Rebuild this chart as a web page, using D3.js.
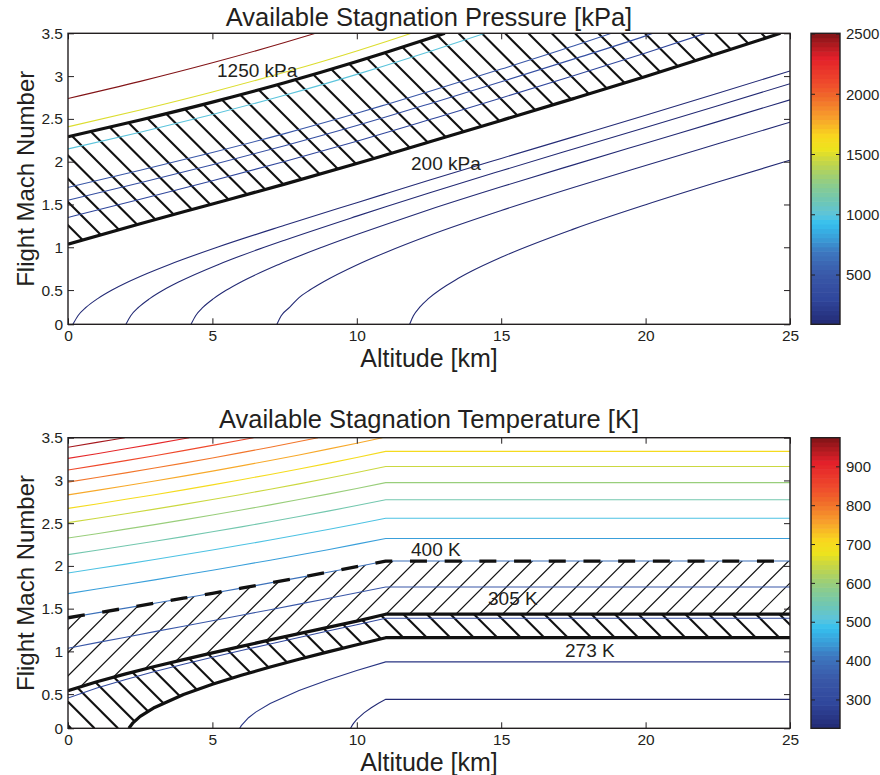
<!DOCTYPE html>
<html><head><meta charset="utf-8">
<script src="https://cdn.jsdelivr.net/npm/d3@7"></script>
<style>
body{margin:0;background:#fff}
svg{display:block}
text{font-family:"Liberation Sans",Arial,Helvetica,sans-serif;fill:#231f20}
</style>
</head><body>
<svg id="c" width="880" height="775"></svg>
<script>
// ================= DATA =================
const altTicks = [0, 5, 10, 15, 20, 25];
const machTicks = [0.1, 0.5, 1, 1.5, 2, 2.5, 3, 3.5];
const machTickLabels = ["0", "0.5", "1", "1.5", "2", "2.5", "3", "3.5"];
const pBarTicks = [500, 1000, 1500, 2000, 2500];
const tBarTicks = [300, 400, 500, 600, 700, 800, 900];
const pBarRange = [91, 2506];
const tBarRange = [227, 975];

// Stagnation pressure contours: [altitude km, Mach]
const pLevels = [20, 40, 60, 80, 100, 300, 400, 500, 1000, 1500, 2500];
const p20 = [[11.83,0.1],[11.96,0.2],[12.18,0.3],[12.5,0.405],[13.5,0.634],[14,0.725],[15,0.883],[17.5,1.212],[20,1.497],[22.5,1.762],[25,2.017]];
const p40 = [[7.234,0.1],[7.382,0.2],[7.68,0.3],[8,0.412],[8.372,0.5],[8.866,0.6],[10,0.793],[11,0.94],[12.5,1.138],[15,1.43],[17.5,1.699],[20,1.956],[22.5,2.209],[25,2.461]];
const p60 = [[4.26,0.1],[4.419,0.2],[4.68,0.3],[5.04,0.4],[5.489,0.5],[6.022,0.6],[7.299,0.8],[8.794,1.0],[10,1.149],[11,1.267],[12.5,1.438],[15,1.706],[17.5,1.963],[20,2.216],[22.5,2.468],[25,2.723]];
const p80 = [[2.006,0.1],[2.173,0.2],[2.449,0.3],[2.829,0.4],[3.304,0.5],[3.866,0.6],[5.215,0.8],[6.794,1.0],[7.5,1.083],[10,1.364],[11,1.474],[12.5,1.635],[15,1.894],[17.5,2.148],[20,2.4],[22.5,2.654],[25,2.911]];
const p100 = [[0.17,0.1],[0.345,0.2],[0.633,0.3],[1.029,0.4],[1.525,0.5],[2.111,0.6],[2.78,0.7],[3.518,0.8],[5.166,1.0],[7.5,1.257],[10,1.521],[11,1.626],[12.5,1.783],[15,2.038],[17.5,2.29],[20,2.543],[22.5,2.799],[25,3.06]];
const p300 = [[0,1.348],[2.5,1.562],[5,1.778],[7.5,2.002],[10,2.238],[11,2.337],[12.5,2.489],[15,2.744],[17.5,3.004],[20,3.27],[22.08,3.5]];
const p400 = [[0,1.55],[2.5,1.754],[5,1.965],[7.5,2.186],[10,2.422],[11,2.522],[12.5,2.675],[15,2.933],[17.5,3.198],[20,3.47],[20.26,3.5]];
const p500 = [[0,1.7],[2.5,1.9],[5,2.108],[7.5,2.328],[10,2.565],[11,2.666],[12.5,2.82],[15,3.082],[17.5,3.351],[18.82,3.5]];
const p1000 = [[0,2.149],[2.5,2.344],[5,2.552],[7.5,2.776],[10,3.02],[11,3.124],[12.5,3.285],[14.44,3.5]];
const p1500 = [[0,2.408],[2.5,2.604],[5,2.815],[7.5,3.044],[10,3.294],[11,3.402],[11.89,3.5]];
const p2500 = [[0,2.738],[2.5,2.938],[5,3.155],[7.5,3.392],[8.57,3.5]];
// bold boundaries (200 kPa and 1250 kPa)
const p200 = [[0,1.036],[2.5,1.275],[5,1.506],[7.5,1.738],[10,1.978],[11,2.078],[12.5,2.229],[15,2.482],[17.5,2.737],[20,2.996],[22.5,3.263],[24.67,3.5]];
const p1250 = [[0,2.291],[2.5,2.487],[5,2.696],[7.5,2.922],[10,3.17],[11,3.276],[12.5,3.44],[13.05,3.5]];

// Stagnation temperature contours: [altitude km, Mach]
const tLevels = [225, 250, 300, 350, 400, 450, 500, 550, 600, 650, 700, 750, 800, 850, 900, 950];
const t225 = [[9.785,0.1],[9.85,0.14],[9.9,0.164],[10,0.204],[10.25,0.28],[10.5,0.341],[10.75,0.393],[11,0.439],[25,0.439]];
const t250 = [[5.946,0.1],[6,0.131],[6.25,0.224],[6.5,0.289],[7,0.389],[8,0.542],[9,0.666],[10,0.776],[11,0.877],[25,0.877]];
const t300 = [[0,0.454],[1,0.571],[2,0.672],[3,0.764],[4,0.85],[5,0.931],[6,1.01],[7,1.087],[8,1.163],[9,1.238],[10,1.312],[11,1.387],[25,1.387]];
const t350 = [[0,1.036],[1,1.102],[2,1.166],[3,1.231],[4,1.294],[5,1.358],[6,1.423],[7,1.487],[8,1.553],[9,1.619],[10,1.686],[11,1.754],[25,1.754]];
const t400 = [[0,1.393],[1,1.45],[2,1.506],[3,1.564],[4,1.622],[5,1.68],[6,1.74],[7,1.801],[8,1.863],[9,1.926],[10,1.991],[11,2.057],[25,2.057]];
const t450 = [[0,1.676],[1,1.729],[2,1.783],[3,1.837],[4,1.893],[5,1.95],[6,2.008],[7,2.067],[8,2.128],[9,2.19],[10,2.255],[11,2.321],[25,2.321]];
const t500 = [[0,1.917],[1,1.969],[2,2.021],[3,2.075],[4,2.13],[5,2.186],[6,2.244],[7,2.303],[8,2.364],[9,2.426],[10,2.491],[11,2.557],[25,2.557]];
const t550 = [[0,2.132],[1,2.183],[2,2.235],[3,2.288],[4,2.343],[5,2.399],[6,2.457],[7,2.517],[8,2.578],[9,2.641],[10,2.706],[11,2.774],[25,2.774]];
const t600 = [[0,2.326],[1,2.377],[2,2.43],[3,2.483],[4,2.539],[5,2.595],[6,2.654],[7,2.714],[8,2.776],[9,2.84],[10,2.906],[11,2.974],[25,2.974]];
const t650 = [[0,2.506],[1,2.557],[2,2.61],[3,2.664],[4,2.72],[5,2.777],[6,2.836],[7,2.897],[8,2.96],[9,3.025],[10,3.093],[11,3.163],[25,3.163]];
const t700 = [[0,2.673],[1,2.725],[2,2.779],[3,2.833],[4,2.89],[5,2.948],[6,3.008],[7,3.07],[8,3.134],[9,3.2],[10,3.269],[11,3.34],[25,3.34]];
const t750 = [[0,2.831],[1,2.884],[2,2.938],[3,2.993],[4,3.05],[5,3.109],[6,3.17],[7,3.233],[8,3.298],[9,3.366],[10,3.436],[10.886,3.5]];
const t800 = [[0,2.98],[1,3.034],[2,3.088],[3,3.145],[4,3.203],[5,3.263],[6,3.325],[7,3.389],[8,3.455],[8.657,3.5]];
const t850 = [[0,3.122],[1,3.176],[2,3.232],[3,3.289],[4,3.349],[5,3.41],[6,3.473],[6.426,3.5]];
const t900 = [[0,3.258],[1,3.313],[2,3.37],[3,3.428],[4,3.488],[4.197,3.5]];
const t950 = [[0,3.389],[1,3.445],[1.5,3.473],[1.968,3.5]];
// bold boundaries (273 K, 305 K) ; 400 K dashed uses t400
const t273 = [[2.108,0.1],[2.25,0.164],[2.5,0.239],[3,0.344],[4,0.495],[5,0.615],[6,0.72],[7,0.817],[8,0.907],[9,0.994],[10,1.078],[11,1.16],[25,1.16]];
const t305 = [[0,0.541],[1,0.644],[2,0.737],[3,0.823],[4,0.904],[5,0.982],[6,1.059],[7,1.134],[8,1.207],[9,1.281],[10,1.354],[11,1.435],[25,1.435]];

// ================= DRAWING =================
const svg = d3.select("#c");
const defs = svg.append("defs");
const XR = [68, 790];
const CBX = [811, 840];

const cmapStops = [[0,"#232a74"],[0.087,"#30479c"],[0.17,"#3a58a8"],[0.25,"#3d78c0"],[0.29,"#3a9ad6"],[0.347,"#35c0ef"],[0.376,"#5cc4dc"],[0.418,"#6cc6b8"],[0.48,"#8ccc8c"],[0.52,"#a8d068"],[0.57,"#cfd93c"],[0.6,"#ece31e"],[0.645,"#f9d81e"],[0.71,"#f7a02c"],[0.79,"#f0642a"],[0.83,"#ef4a2c"],[0.915,"#e3202a"],[1,"#7f1416"]];
const cmap = d3.scaleLinear().domain(cmapStops.map(s => s[0])).range(cmapStops.map(s => s[1])).interpolate(d3.interpolateRgb).clamp(true);

function panel(o) {
  const x = d3.scaleLinear().domain([0, 25]).range(XR);
  const y = d3.scaleLinear().domain([0.1, 3.5]).range([o.bottom, o.top]);
  const g = svg.append("g");
  defs.append("clipPath").attr("id", o.id + "rect").append("rect")
    .attr("x", XR[0]).attr("y", o.top).attr("width", XR[1] - XR[0]).attr("height", o.bottom - o.top);
  const plot = g.append("g").attr("clip-path", `url(#${o.id}rect)`);
  const lineC = d3.line().x(d => x(d[0])).y(d => y(d[1])).curve(o.curve);
  const color = v => cmap((v - o.cRange[0]) / (o.cRange[1] - o.cRange[0]));

  // hatched regions
  o.hatches.forEach((h, i) => {
    const poly = h.poly.map(d => [x(d[0]), y(d[1])]);
    defs.append("clipPath").attr("id", o.id + "h" + i).append("path").attr("d", "M" + poly.join("L") + "Z");
    const hg = plot.append("g").attr("clip-path", `url(#${o.id}h${i})`);
    const segs = [];
    if (h.dir === "back") { // x - y = c
      const lo = XR[0] - o.bottom - h.step, hi = XR[1] - o.top + h.step;
      let c = h.phase - Math.ceil((h.phase - lo) / h.step) * h.step;
      for (; c <= hi; c += h.step) segs.push([[c + o.top, o.top], [c + o.bottom, o.bottom]]);
    } else { // x + y = c
      const lo = XR[0] + o.top - h.step, hi = XR[1] + o.bottom + h.step;
      let c = h.phase - Math.ceil((h.phase - lo) / h.step) * h.step;
      for (; c <= hi; c += h.step) segs.push([[c - o.top, o.top], [c - o.bottom, o.bottom]]);
    }
    hg.selectAll("line").data(segs).join("line")
      .attr("x1", d => d[0][0]).attr("y1", d => d[0][1])
      .attr("x2", d => d[1][0]).attr("y2", d => d[1][1])
      .attr("stroke", "#111").attr("stroke-width", h.width).attr("stroke-linecap", "butt");
  });

  // colored contours
  plot.selectAll("path.ct").data(o.contours).join("path").attr("class", "ct")
    .attr("d", d => lineC(d.pts)).attr("fill", "none")
    .attr("stroke", d => color(d.level)).attr("stroke-width", 1.1);

  // bold boundaries
  o.bold.forEach(b => {
    plot.append("path").attr("d", lineC(b.pts)).attr("fill", "none")
      .attr("stroke", "#111").attr("stroke-width", b.width)
      .attr("stroke-dasharray", b.dash || null).attr("stroke-linejoin", "round");
  });

  // axes box
  g.append("rect").attr("x", XR[0]).attr("y", o.top).attr("width", XR[1] - XR[0]).attr("height", o.bottom - o.top)
    .attr("fill", "none").attr("stroke", "#231f20").attr("stroke-width", 1.4);

  const ax = (gen, tr) => {
    const a = g.append("g").attr("transform", tr).call(gen);
    a.select(".domain").remove();
    a.selectAll(".tick line").attr("stroke", "#231f20").attr("stroke-width", 1);
    a.selectAll("text").attr("font-size", 15.5).attr("font-family", "Liberation Sans, Arial, sans-serif").attr("fill", "#231f20");
    return a;
  };
  ax(d3.axisBottom(x).tickValues(altTicks).tickFormat(d3.format("d")).tickSizeInner(-6).tickSizeOuter(0).tickPadding(5.5), `translate(0,${o.bottom})`);
  ax(d3.axisTop(x).tickValues(altTicks).tickFormat("").tickSizeInner(-6).tickSizeOuter(0), `translate(0,${o.top})`);
  ax(d3.axisLeft(y).tickValues(machTicks).tickFormat((d, i) => machTickLabels[i]).tickSizeInner(-6).tickSizeOuter(0).tickPadding(5), `translate(${XR[0]},0)`);
  ax(d3.axisRight(y).tickValues(machTicks).tickFormat("").tickSizeInner(-6).tickSizeOuter(0), `translate(${XR[1]},0)`);

  // titles
  g.append("text").attr("x", (XR[0] + XR[1]) / 2).attr("y", o.titleY).attr("text-anchor", "middle")
    .attr("font-size", 25.5).text(o.title);
  g.append("text").attr("x", (XR[0] + XR[1]) / 2).attr("y", o.bottom + 42.5).attr("text-anchor", "middle")
    .attr("font-size", 25).text("Altitude [km]");
  g.append("text").attr("transform", `translate(33.5,${(o.top + o.bottom) / 2}) rotate(-90)`)
    .attr("text-anchor", "middle").attr("font-size", 24).text("Flight Mach Number");

  // contour labels
  o.labels.forEach(l => g.append("text").attr("x", l.x).attr("y", l.y).attr("font-size", 19).text(l.text));

  // colorbar
  const cy = d3.scaleLinear().domain(o.cRange).range([o.bottom, o.top]);
  const n = 64, cb = g.append("g");
  const bands = d3.range(n);
  cb.selectAll("rect").data(bands).join("rect")
    .attr("x", CBX[0]).attr("width", CBX[1] - CBX[0])
    .attr("y", i => cy(o.cRange[0] + (i + 1) * (o.cRange[1] - o.cRange[0]) / n) - 0.3)
    .attr("height", (o.bottom - o.top) / n + 0.6)
    .attr("fill", i => cmap((i + 0.5) / n));
  cb.append("rect").attr("x", CBX[0]).attr("y", o.top).attr("width", CBX[1] - CBX[0]).attr("height", o.bottom - o.top)
    .attr("fill", "none").attr("stroke", "#231f20").attr("stroke-width", 1.4);
  o.cTicks.forEach(t => {
    const yy = cy(t);
    cb.append("line").attr("x1", CBX[1] - 4).attr("x2", CBX[1]).attr("y1", yy).attr("y2", yy).attr("stroke", "#231f20");
    cb.append("line").attr("x1", CBX[0]).attr("x2", CBX[0] + 4).attr("y1", yy).attr("y2", yy).attr("stroke", "#231f20");
    cb.append("text").attr("x", CBX[1] + 6).attr("y", yy).attr("dy", "0.35em").attr("font-size", 15).text(t);
  });
}

panel({
  id: "p", top: 33.3, bottom: 324.3, titleY: 26,
  title: "Available Stagnation Pressure [kPa]",
  curve: d3.curveMonotoneX,
  cRange: pBarRange, cTicks: pBarTicks,
  contours: [p20, p40, p60, p80, p100, p300, p400, p500, p1000, p1500, p2500].map((pts, i) => ({level: pLevels[i], pts})),
  bold: [{pts: p200, width: 3.2}, {pts: p1250, width: 3.2}],
  hatches: [{poly: p200.concat(p1250.slice().reverse()), dir: "back", step: 23.3, phase: 541.7, width: 2.1}],
  labels: [{x: 217, y: 77, text: "1250 kPa"}, {x: 411, y: 170, text: "200 kPa"}]
});

panel({
  id: "t", top: 437.7, bottom: 728.3, titleY: 428,
  title: "Available Stagnation Temperature [K]",
  curve: d3.curveLinear,
  cRange: tBarRange, cTicks: tBarTicks,
  contours: [t225, t250, t300, t350, t400, t450, t500, t550, t600, t650, t700, t750, t800, t850, t900, t950].map((pts, i) => ({level: tLevels[i], pts})),
  bold: [{pts: t400, width: 3.3, dash: "17,17.7"}, {pts: t305, width: 3.2}, {pts: t273, width: 3.2}],
  hatches: [
    {poly: t400.concat(t305.slice().reverse()), dir: "fwd", step: 23.3, phase: 1163.3, width: 1.2},
    {poly: t305.concat(t273.slice().reverse(), [[0, 0.1]]), dir: "back", step: 23.5, phase: -46.3, width: 2.1}
  ],
  labels: [{x: 411, y: 556, text: "400 K"}, {x: 488, y: 604.5, text: "305 K"}, {x: 565, y: 657, text: "273 K"}]
});
</script>
</body></html>
